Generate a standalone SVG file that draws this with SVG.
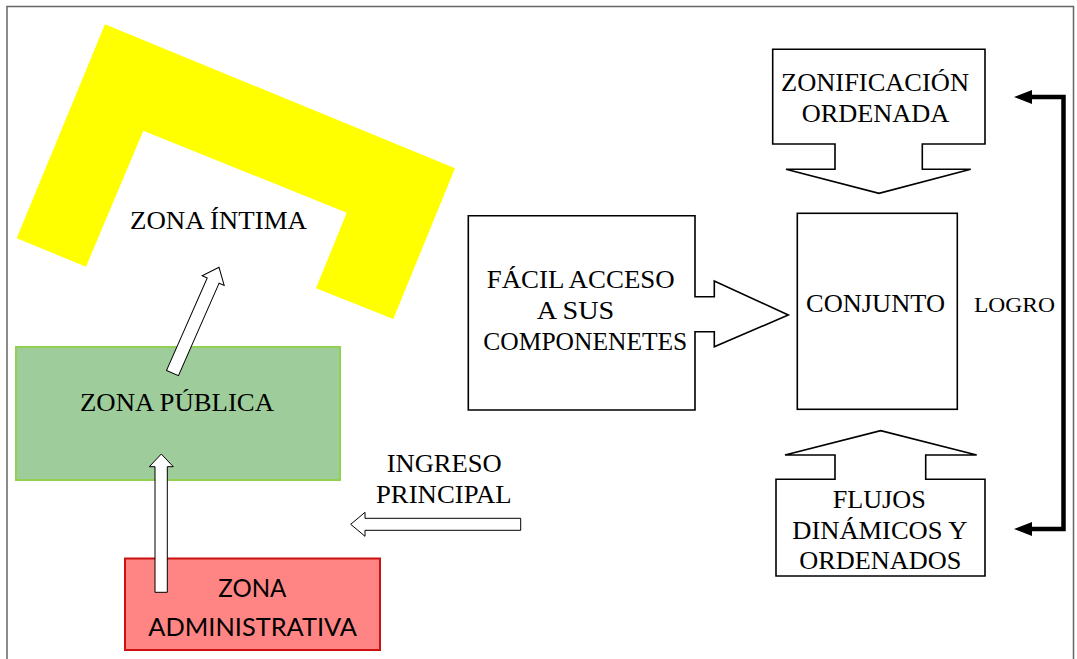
<svg xmlns="http://www.w3.org/2000/svg" width="1077" height="659" viewBox="0 0 1077 659">
<style>
.t{font-family:"Liberation Serif","Times New Roman",serif;font-size:25px;fill:#000}
.s{font-family:Lato,"Liberation Sans",sans-serif;font-size:25px;fill:#000}
.box{fill:#fff;stroke:#000;stroke-width:1.6}
.arr{fill:#fff;stroke:#000;stroke-width:1}
</style>
<defs>
<marker id="ah" markerUnits="userSpaceOnUse" markerWidth="18" markerHeight="14" viewBox="0 0 18 14" refX="2" refY="7" orient="auto-start-reverse">
<path d="M0,0 L18,7 L0,14 Z" fill="#000"/>
</marker>
</defs>
<rect x="0" y="0" width="1077" height="659" fill="#fff"/>
<rect x="7" y="6.5" width="1066.5" height="670" fill="none" stroke="#666" stroke-width="1.5"/>

<g id="zona-intima">
<polygon points="105,24.3 455,168.3 393.3,319 316,288.3 346.7,212.7 143.3,130.7 86,266.7 16.7,238.3" fill="#ffff00"/>
<text class="t" x="130" y="229" textLength="177" lengthAdjust="spacingAndGlyphs">ZONA ÍNTIMA</text>
</g>

<g id="zona-publica">
<rect x="16" y="347" width="324" height="133" fill="#9ecd9b" stroke="#92d050" stroke-width="2"/>
<text class="t" x="80" y="411" textLength="194" lengthAdjust="spacingAndGlyphs">ZONA PÚBLICA</text>
</g>

<g id="zona-administrativa">
<rect x="125" y="558.5" width="255" height="91.5" fill="#ff8585" stroke="#cc1111" stroke-width="2"/>
<text class="s" x="218.3" y="596.7" textLength="68" lengthAdjust="spacingAndGlyphs">ZONA</text>
<text class="s" x="148.3" y="635.7" textLength="208.7" lengthAdjust="spacingAndGlyphs">ADMINISTRATIVA</text>
</g>

<g id="ingreso-principal">
<text class="t" x="386.7" y="471.7" textLength="115" lengthAdjust="spacingAndGlyphs">INGRESO</text>
<text class="t" x="376" y="502.7" textLength="135.7" lengthAdjust="spacingAndGlyphs">PRINCIPAL</text>
</g>

<g id="facil-acceso">
<path class="box" d="M468.3,215.7 H695 V296.7 H714.3 V281 L788.3,315 L714.3,346.7 V331.7 H695 V410 H468.3 Z"/>
<text class="t" x="486.7" y="288.3" textLength="188" lengthAdjust="spacingAndGlyphs">FÁCIL ACCESO</text>
<text class="t" x="536.7" y="319" textLength="77.6" lengthAdjust="spacingAndGlyphs">A SUS</text>
<text class="t" x="483.3" y="350" textLength="204" lengthAdjust="spacingAndGlyphs">COMPONENETES</text>
</g>

<g id="conjunto">
<rect class="box" x="797.3" y="213.3" width="160" height="196"/>
<text class="t" x="806" y="312.3" textLength="139" lengthAdjust="spacingAndGlyphs">CONJUNTO</text>
</g>

<g id="zonificacion">
<path class="box" d="M772.7,49.3 H985 V144 H922.3 V169.3 H970.7 L879,193.3 L786,169.3 H835 V144 H772.7 Z"/>
<text class="t" x="781" y="91" textLength="188" lengthAdjust="spacingAndGlyphs">ZONIFICACIÓN</text>
<text class="t" x="801.7" y="121.7" textLength="147.7" lengthAdjust="spacingAndGlyphs">ORDENADA</text>
</g>

<g id="flujos">
<path class="box" d="M776,479.3 H835 V455 H785 L880.7,430.7 L976.7,455 H925.7 V479.3 H985 V576 H776 Z"/>
<text class="t" x="832.7" y="508.3" textLength="93" lengthAdjust="spacingAndGlyphs">FLUJOS</text>
<text class="t" x="792.3" y="539" textLength="175" lengthAdjust="spacingAndGlyphs">DINÁMICOS Y</text>
<text class="t" x="799.3" y="569.3" textLength="162" lengthAdjust="spacingAndGlyphs">ORDENADOS</text>
</g>

<g id="logro">
<text class="t" style="font-size:22px" x="974" y="312.3" textLength="81" lengthAdjust="spacingAndGlyphs">LOGRO</text>
</g>

<g id="connectors">
<path class="arr" d="M0,-6.5 H101 V-12 L115.5,0 L101,12 V6.5 H0 Z" transform="translate(172.5,373) rotate(-66.25)"/>
<polygon class="arr" points="155,592.3 155,466.7 149.3,466.7 161.3,454 173.3,466.7 167.3,466.7 167.3,592.3"/>
<polygon class="arr" points="520.7,518.3 365,518.3 365,512.3 350.7,524.3 365,536.3 365,530.3 520.7,530.3"/>
<path d="M1030,97 H1063.5 V529 H1030" fill="none" stroke="#000" stroke-width="4.5" marker-start="url(#ah)" marker-end="url(#ah)"/>
</g>
</svg>
